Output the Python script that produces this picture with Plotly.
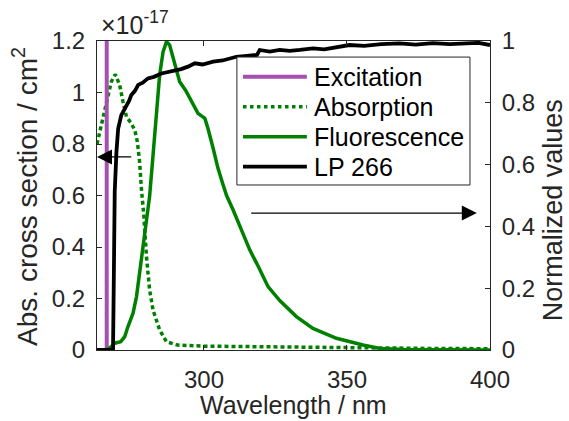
import plotly.graph_objects as go

# Excitation line (nm)
exc_wl = [266.0, 266.0]
exc_val = [0.0, 1.0]

# Absorption cross section (x1e-17 cm^2)
abs_wl = [262.6, 264.1, 265.9, 267.6, 269.0, 270.5, 271.7, 272.9, 274.6, 275.8, 276.7,
          277.5, 278.1, 279.0, 279.9, 281.0, 282.2, 284.5, 286.9, 290.8, 300.0, 320.0,
          340.0, 360.0, 380.0, 400.0]
abs_val = [0.80, 0.874, 0.964, 1.042, 1.07, 1.03, 0.964, 0.906, 0.88, 0.854, 0.81,
           0.73, 0.63, 0.518, 0.362, 0.233, 0.155, 0.078, 0.032, 0.019, 0.015, 0.012,
           0.010, 0.008, 0.006, 0.005]

# Fluorescence (normalized)
fl_wl = [262.6, 266.0, 267.5, 268.8, 270.9, 272.3, 273.4, 275.2, 276.4, 277.5, 278.7,
         279.9, 281.0, 282.2, 283.4, 284.5, 285.7, 286.9, 288.0, 289.2, 290.4, 291.5,
         293.6, 296.0, 297.9, 300.3, 301.4, 303.2, 304.9, 306.7, 307.9, 310.2, 313.1,
         316.0, 319.0, 322.4, 326.5, 332.3, 338.1, 346.3, 355.6, 361.5, 370.0, 385.0, 400.0]
fl_val = [0.0, 0.0, 0.01, 0.022, 0.027, 0.043, 0.075, 0.119, 0.172, 0.248, 0.324,
          0.41, 0.498, 0.631, 0.771, 0.89, 0.965, 0.998, 0.987, 0.944, 0.9, 0.868,
          0.84, 0.80, 0.766, 0.75, 0.717, 0.653, 0.588, 0.534, 0.50, 0.453, 0.388,
          0.324, 0.27, 0.205, 0.16, 0.108, 0.07, 0.038, 0.016, 0.005, 0.002, 0.001, 0.0]

# LP 266 filter transmission (normalized)
lp_wl = [262.6, 268.2, 268.5, 268.8, 269.4, 270.0, 271.1, 272.0, 272.9, 273.8, 274.6,
         275.8, 277.0, 278.6, 280.4, 282.5, 285.1, 287.3, 289.8, 292.0, 294.4, 296.8,
         299.5, 303.2, 306.5, 311.3, 315.0, 318.5, 319.5, 323.0, 326.5, 330.0, 333.5,
         338.1, 342.0, 346.0, 350.9, 356.0, 362.0, 368.4, 374.0, 380.0, 386.0, 391.8,
         396.0, 400.0]
lp_val = [0.0, 0.0, 0.25, 0.512, 0.642, 0.717, 0.76, 0.775, 0.793, 0.806, 0.825,
          0.838, 0.858, 0.865, 0.879, 0.884, 0.895, 0.899, 0.906, 0.909, 0.917, 0.928,
          0.924, 0.933, 0.937, 0.949, 0.952, 0.955, 0.971, 0.966, 0.971, 0.968, 0.971,
          0.976, 0.973, 0.980, 0.987, 0.984, 0.990, 0.992, 0.988, 0.993, 0.990, 0.992,
          0.994, 0.987]

series_names = ["Excitation", "Absorption", "Fluorescence", "LP 266"]

left_ticks = [0, 0.2, 0.4, 0.6, 0.8, 1.0, 1.2]
left_ticktext = ["0", "0.2", "0.4", "0.6", "0.8", "1", "1.2"]
right_ticks = [0, 0.2, 0.4, 0.6, 0.8, 1.0]
right_ticktext = ["0", "0.2", "0.4", "0.6", "0.8", "1"]
x_ticks = [300, 350, 400]

PURPLE = "#A550B0"
GREEN = "#008000"
AXC = "#262626"
FONT = "Liberation Sans, Arial, sans-serif"

colors = [PURPLE, GREEN, GREEN, "black"]
dashes = ["solid", "4px,3px", "solid", "solid"]
widths = [4, 3.5, 3.5, 3.8]

fig = go.Figure()
fig.add_trace(go.Scatter(x=exc_wl, y=exc_val, yaxis="y2", mode="lines", name=series_names[0],
                         line=dict(color=colors[0], width=widths[0])))
fig.add_trace(go.Scatter(x=abs_wl, y=abs_val, yaxis="y", mode="lines", name=series_names[1],
                         line=dict(color=colors[1], width=widths[1], dash=dashes[1])))
fig.add_trace(go.Scatter(x=fl_wl, y=fl_val, yaxis="y2", mode="lines", name=series_names[2],
                         line=dict(color=colors[2], width=widths[2])))
fig.add_trace(go.Scatter(x=lp_wl, y=lp_val, yaxis="y2", mode="lines", name=series_names[3],
                         line=dict(color=colors[3], width=widths[3])))

axis_common = dict(showgrid=False, zeroline=False, showline=True, linecolor=AXC, linewidth=1,
                   ticks="inside", ticklen=5, tickcolor=AXC,
                   tickfont=dict(family=FONT, size=24, color=AXC))

# manual legend (box, key lines, labels) in paper coordinates
leg_x0, leg_x1, leg_y0, leg_y1 = 0.356, 0.949, 0.534, 0.948
key_x0, key_x1, txt_x = 0.3715, 0.534, 0.546
row_y = [0.8845, 0.7874, 0.6903, 0.5932]

shapes = [dict(type="rect", xref="paper", yref="paper", x0=leg_x0, x1=leg_x1, y0=leg_y0, y1=leg_y1,
               line=dict(color=AXC, width=1), fillcolor="white", layer="above")]
annotations = []
for i, nm in enumerate(series_names):
    shapes.append(dict(type="line", xref="paper", yref="paper", x0=key_x0, x1=key_x1,
                       y0=row_y[i], y1=row_y[i], layer="above",
                       line=dict(color=colors[i], width=widths[i],
                                 dash="dot" if i == 1 else "solid")))
    annotations.append(dict(text=nm, xref="paper", yref="paper", x=txt_x, y=row_y[i],
                            xanchor="left", yanchor="middle", showarrow=False,
                            font=dict(family=FONT, size=25, color="black")))

annotations += [
    dict(text="×10<sup>-17</sup>", xref="paper", yref="paper", x=0.005, y=1.0,
         xanchor="left", yanchor="bottom", showarrow=False,
         font=dict(family=FONT, size=25, color=AXC)),
    dict(text="Wavelength / nm", xref="paper", yref="paper", x=0.5, y=-0.1796,
         xanchor="center", yanchor="middle", showarrow=False,
         font=dict(family=FONT, size=25, color=AXC)),
    dict(text="Abs. cross section / cm<sup>2</sup>", xref="paper", yref="paper", x=-0.182, y=0.497,
         xanchor="center", yanchor="middle", showarrow=False, textangle=-90,
         font=dict(family=FONT, size=28, color=AXC)),
    dict(text="Normalized values", xref="paper", yref="paper", x=1.161, y=0.453,
         xanchor="center", yanchor="middle", showarrow=False, textangle=-90, borderpad=0,
         font=dict(family=FONT, size=27, color=AXC)),
    dict(x=262.6, y=0.75, xref="x", yref="y", ax=275.1, ay=0.75, axref="x", ayref="y",
         text="", showarrow=True, arrowhead=2, arrowsize=2.5, arrowwidth=1.2,
         arrowcolor="black"),
    dict(x=395.4, y=0.443, xref="x", yref="y2", ax=316.0, ay=0.443, axref="x", ayref="y2",
         text="", showarrow=True, arrowhead=2, arrowsize=2.5, arrowwidth=1.2,
         arrowcolor="black"),
]

fig.update_layout(
    width=569, height=421,
    margin=dict(l=97, r=79, t=41, b=71),
    paper_bgcolor="white", plot_bgcolor="white",
    font=dict(family=FONT, size=24, color=AXC),
    showlegend=False,
    xaxis=dict(range=[262.6, 400], tickvals=x_ticks, mirror="ticks", ticklabelstandoff=8,
               **axis_common),
    yaxis=dict(range=[0, 1.2], tickvals=left_ticks, ticktext=left_ticktext,
               ticklabelstandoff=6, **axis_common),
    yaxis2=dict(range=[0, 1], tickvals=right_ticks, ticktext=right_ticktext,
                overlaying="y", side="right", ticklabelstandoff=6, **axis_common),
    shapes=shapes,
    annotations=annotations,
)

fig.write_html("out.html")
